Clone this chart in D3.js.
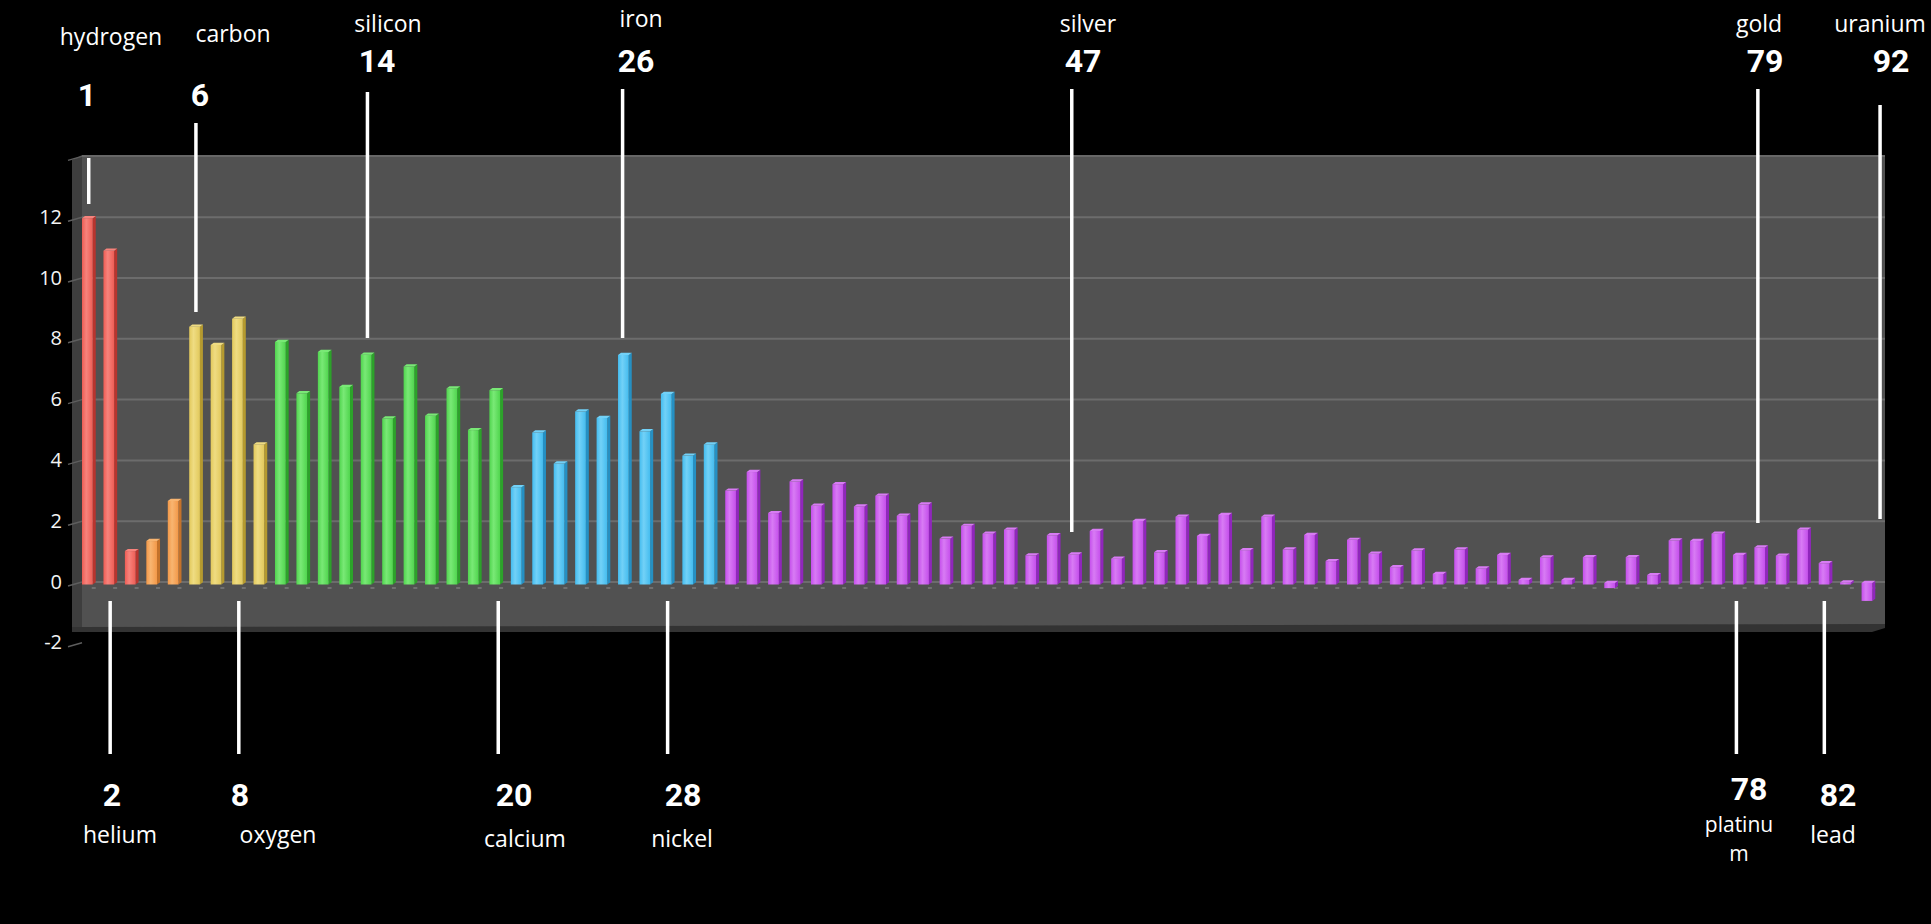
<!DOCTYPE html>
<html>
<head>
<meta charset="utf-8">
<script src="https://cdn.jsdelivr.net/npm/d3@7"></script>
<style>
  html, body { margin: 0; padding: 0; background: #000; }
  svg { display: block; }
</style>
</head>
<body>
<svg id="chart" width="1931" height="924"></svg>
<script>
// Atomic numbers with a bar (no Pm, no elements 84–89 or 91)
const elements = [
  1, 2, 3, 4, 5, 6, 7, 8, 9, 10, 11, 12, 13, 14, 15, 16, 17, 18, 19, 20,
  21, 22, 23, 24, 25, 26, 27, 28, 29, 30, 31, 32, 33, 34, 35, 36, 37, 38, 39, 40,
  41, 42, 43, 44, 45, 46, 47, 48, 49, 50, 51, 52, 53, 54, 55, 56, 57, 58, 59, 60,
  62, 63, 64, 65, 66, 67, 68, 69, 70, 71, 72, 73, 74, 75, 76, 77, 78, 79, 80, 81,
  82, 83, 90, 92
];

// Abundance, log scale with hydrogen = 12
const abundance = [
  12.00, 10.93, 1.05, 1.38, 2.70, 8.43, 7.83, 8.69, 4.56, 7.93,
  6.24, 7.60, 6.45, 7.51, 5.41, 7.12, 5.50, 6.40, 5.03, 6.34,
  3.15, 4.95, 3.93, 5.64, 5.43, 7.50, 4.99, 6.22, 4.19, 4.56,
  3.04, 3.65, 2.30, 3.34, 2.54, 3.25, 2.52, 2.87, 2.21, 2.58,
  1.46, 1.88, 1.62, 1.75, 0.91, 1.57, 0.94, 1.71, 0.80, 2.04,
  1.01, 2.18, 1.55, 2.24, 1.08, 2.18, 1.10, 1.58, 0.72, 1.42,
  0.96, 0.52, 1.07, 0.30, 1.10, 0.48, 0.92, 0.10, 0.84, 0.10,
  0.85, -0.12, 0.85, 0.26, 1.40, 1.38, 1.62, 0.92, 1.17, 0.90,
  1.75, 0.65, 0.02, -0.54
];

// Colour group for each atomic-number range
const groupNames = ["red", "orange", "yellow", "green", "blue", "purple"];
const groupLastZ = [3, 5, 9, 20, 30, 92];

// Value-axis ticks
const yTicks = [-2, 0, 2, 4, 6, 8, 10, 12, 14];
const yTickLabels = ["-2", "0", "2", "4", "6", "8", "10", "12", ""];

// Callouts above the plot
const topNames = ["hydrogen", "carbon", "silicon", "iron", "silver", "gold", "uranium"];
const topNumbers = ["1", "6", "14", "26", "47", "79", "92"];
// Callouts below the plot
const bottomNames = [["helium"], ["oxygen"], ["calcium"], ["nickel"], ["platinu", "m"], ["lead"]];
const bottomNumbers = ["2", "8", "20", "28", "78", "82"];

// ---- layout -------------------------------------------------------------
const palette = {
  red:    { base: "#ee5d55", light: "#f7837c", side: "#b8342e" },
  orange: { base: "#f39848", light: "#f8b571", side: "#c5722a" },
  yellow: { base: "#e2c95c", light: "#efdc82", side: "#b59a2f" },
  green:  { base: "#50d54e", light: "#79e976", side: "#2ca32a" },
  blue:   { base: "#44bcef", light: "#72d1f7", side: "#2590c3" },
  purple: { base: "#c54fec", light: "#d87bf4", side: "#9026bc" }
};

const plot = { left: 82, right: 1885, top: 155, bottom: 628, sideLeft: 72 };

// slot positions (in bar units) and pixel layout of the callouts
const topLayout = [
  { slot: 1,     y1: 158, y2: 204, nameX: 111,  nameY: 45, numX: 87,   numY: 106, size: 23 },
  { slot: 6,     y1: 123, y2: 312, nameX: 233,  nameY: 42, numX: 200,  numY: 106, size: 23 },
  { slot: 14,    y1: 92,  y2: 338, nameX: 388,  nameY: 32, numX: 377,  numY: 72,  size: 23 },
  { slot: 25.9,  y1: 89,  y2: 338, nameX: 641,  nameY: 27, numX: 636,  numY: 72,  size: 23 },
  { slot: 46.85, y1: 89,  y2: 532, nameX: 1088, nameY: 32, numX: 1083, numY: 72,  size: 23 },
  { slot: 78.85, y1: 89,  y2: 523, nameX: 1759, nameY: 32, numX: 1765, numY: 72,  size: 23 },
  { slot: 84.55, y1: 105, y2: 519, nameX: 1880, nameY: 32, numX: 1891, numY: 72,  size: 23 }
];
const bottomLayout = [
  { slot: 2,     y1: 601, y2: 754, nameX: 120,  nameY: 843, numX: 112,  numY: 806, size: 23 },
  { slot: 8,     y1: 601, y2: 754, nameX: 278,  nameY: 843, numX: 240,  numY: 806, size: 23 },
  { slot: 20.1,  y1: 601, y2: 754, nameX: 525,  nameY: 847, numX: 514,  numY: 806, size: 23 },
  { slot: 28,    y1: 601, y2: 754, nameX: 682,  nameY: 847, numX: 683,  numY: 806, size: 23 },
  { slot: 77.85, y1: 601, y2: 754, nameX: 1739, nameY: 832, numX: 1749, numY: 800, size: 21 },
  { slot: 81.95, y1: 601, y2: 754, nameX: 1833, nameY: 843, numX: 1838, numY: 806, size: 23 }
];

const svg = d3.select("#chart");
svg.append("rect").attr("width", 1931).attr("height", 924).attr("fill", "#000");

const x = d3.scaleBand().domain(elements).range([78, 1879]).padding(0);
const slotX = d3.scaleLinear().domain([0.5, elements.length + 0.5]).range([78, 1879]);
const y = d3.scaleLinear().domain([-2, 14]).range([643.8, 157.4]);

const data = elements.map((z, i) => ({
  z, v: abundance[i],
  group: groupNames[groupLastZ.findIndex(last => z <= last)]
}));

// ---- gradients for bar faces --------------------------------------------
const defs = svg.append("defs");
groupNames.forEach(g => {
  const c = palette[g];
  const grad = defs.append("linearGradient").attr("id", "front-" + g)
    .attr("x1", "0%").attr("x2", "100%").attr("y1", "0%").attr("y2", "0%");
  grad.append("stop").attr("offset", "0%").attr("stop-color", c.base);
  grad.append("stop").attr("offset", "40%").attr("stop-color", c.light);
  grad.append("stop").attr("offset", "100%").attr("stop-color", c.base);
});

// ---- walls ----------------------------------------------------------------
svg.append("rect")
  .attr("x", plot.left).attr("y", plot.top)
  .attr("width", plot.right - plot.left).attr("height", plot.bottom - plot.top)
  .attr("fill", "#515151");

// side wall on the left
svg.append("polygon")
  .attr("points", [[plot.sideLeft, plot.top + 5], [plot.left, plot.top], [plot.left, plot.bottom], [plot.sideLeft, plot.bottom + 4]].join(" "))
  .attr("fill", "#3e3e3e");

// floor edge
svg.append("polygon")
  .attr("points", [[plot.sideLeft, plot.bottom - 1], [plot.right, plot.bottom - 4], [plot.right, plot.bottom], [plot.right - 13, plot.bottom + 4], [plot.sideLeft, plot.bottom + 4]].join(" "))
  .attr("fill", "#333333");

// wall top edge
svg.append("line")
  .attr("x1", plot.left).attr("x2", plot.right)
  .attr("y1", plot.top + 1).attr("y2", plot.top + 1)
  .attr("stroke", "#676767").attr("stroke-width", 2);

// gridlines on the back wall
svg.append("g").selectAll("line")
  .data(yTicks.filter(v => v >= 0 && v < 14))
  .join("line")
  .attr("x1", plot.left).attr("x2", plot.right)
  .attr("y1", v => y(v) - 1).attr("y2", v => y(v) - 1)
  .attr("stroke", "#6c6c6c").attr("stroke-width", 2);

// value axis: slanted ticks on the side wall and labels
const yAxis = svg.append("g");
yAxis.selectAll("line")
  .data(yTicks)
  .join("line")
  .attr("x1", plot.sideLeft - 4).attr("x2", plot.left)
  .attr("y1", v => y(v) + 3).attr("y2", v => y(v) - 1)
  .attr("stroke", "#5e5e5e").attr("stroke-width", 1.5);
yAxis.selectAll("text")
  .data(yTicks)
  .join("text")
  .attr("x", 62).attr("y", v => y(v) - 2)
  .attr("text-anchor", "end").attr("dominant-baseline", "central")
  .attr("font-family", "'Open Sans', 'Noto Sans', sans-serif")
  .attr("font-size", 20).attr("fill", "#f4f4f4")
  .text((v, i) => yTickLabels[i]);

// category ticks along the floor
svg.append("g").selectAll("line")
  .data(elements)
  .join("line")
  .attr("x1", z => x(z) + x.bandwidth() / 2 + 3)
  .attr("x2", z => x(z) + x.bandwidth() / 2 + 7)
  .attr("y1", y(0) + 5).attr("y2", y(0) + 5)
  .attr("stroke", "#7b7b7b").attr("stroke-width", 1.5);

// ---- bars -----------------------------------------------------------------
const frontW = 10.7, sideW = 3, lift = 2.2;
const bars = svg.append("g").selectAll("g")
  .data(data)
  .join("g")
  .attr("transform", d => `translate(${x(d.z) + x.bandwidth() / 2 - 6.7},0)`);

bars.each(function (d) {
  const g = d3.select(this);
  const c = palette[d.group];
  const yTop = Math.min(y(d.v), y(0));
  const yBot = Math.max(y(d.v), y(0)) + 1.5;
  // right-hand face
  g.append("polygon")
    .attr("points", [[frontW, yTop], [frontW + sideW, yTop - lift], [frontW + sideW, yBot - lift], [frontW, yBot]].join(" "))
    .attr("fill", c.side);
  // front face
  g.append("rect")
    .attr("x", 0).attr("y", yTop)
    .attr("width", frontW).attr("height", yBot - yTop)
    .attr("fill", `url(#front-${d.group})`);
  // cap
  g.append("polygon")
    .attr("points", [[0, yTop], [frontW, yTop], [frontW + sideW, yTop - lift], [sideW, yTop - lift]].join(" "))
    .attr("fill", c.light);
});

// ---- callouts -------------------------------------------------------------
const nameFont = "'Open Sans', 'Noto Sans', sans-serif";
const numFont = "Roboto, 'Open Sans', sans-serif";

const callouts = svg.append("g");

function drawCallout(layout, name, number) {
  callouts.append("line")
    .attr("x1", slotX(layout.slot)).attr("x2", slotX(layout.slot))
    .attr("y1", layout.y1).attr("y2", layout.y2)
    .attr("stroke", "#fff").attr("stroke-width", 3.5);
  callouts.append("text")
    .attr("x", layout.numX).attr("y", layout.numY)
    .attr("text-anchor", "middle")
    .attr("font-family", numFont).attr("font-weight", 700)
    .attr("font-size", 32).attr("fill", "#fff")
    .text(number);
  const lines = Array.isArray(name) ? name : [name];
  lines.forEach((s, i) => {
    callouts.append("text")
      .attr("x", layout.nameX).attr("y", layout.nameY + i * 29)
      .attr("text-anchor", "middle")
      .attr("font-family", nameFont)
      .attr("font-size", layout.size).attr("fill", "#fff")
      .text(s);
  });
}

topLayout.forEach((l, i) => drawCallout(l, topNames[i], topNumbers[i]));
bottomLayout.forEach((l, i) => drawCallout(l, bottomNames[i], bottomNumbers[i]));
</script>
</body>
</html>
